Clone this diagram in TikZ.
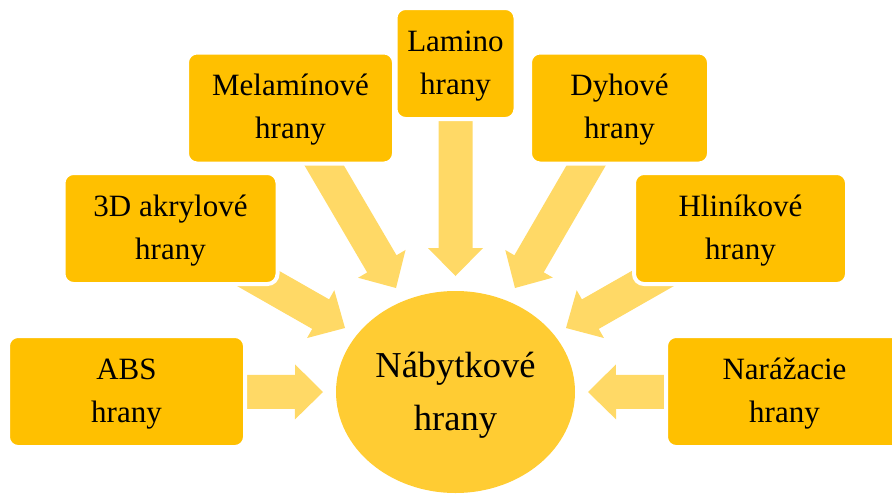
\documentclass[tikz,border=0pt]{standalone}
\usepackage{fontspec}
\setmainfont{Liberation Serif}
\usetikzlibrary{calc,shapes.geometric,backgrounds}
\definecolor{boxgold}{HTML}{FFC000}
\definecolor{arrowgold}{HTML}{FFD966}
\definecolor{hubgold}{HTML}{FFCC33}
\tikzset{
  box/.style={fill=boxgold, draw=white, line width=4pt, rounded corners=10pt,
    minimum height=111pt, inner sep=0pt, align=center,
    font=\fontsize{31}{43}\selectfont, text height=68pt, text depth=7pt},
  hub/.style={ellipse, fill=hubgold, minimum width=239pt, minimum height=202pt,
    inner sep=0pt, align=center, font=\fontsize{36.5}{53}\selectfont,
    text height=84pt, text depth=8pt},
  arrowfill/.style={fill=arrowgold},
}
% block arrow from #1 (tail, hidden under a box) to #2 (tip)
\newcommand\blockarrow[2]{%
  \coordinate (qm) at ($(#2)!28pt!(#1)$);
  \fill[arrowfill] ($(#1)!17pt!90:(#2)$) -- ($(qm)!17pt!90:(#2)$)
    -- ($(qm)!27.5pt!90:(#2)$) -- (#2) -- ($(qm)!27.5pt!-90:(#2)$)
    -- ($(qm)!17pt!-90:(#2)$) -- ($(#1)!17pt!-90:(#2)$) -- cycle;
}
\begin{document}
\begin{tikzpicture}[x=1pt,y=-1pt]
\useasboundingbox (0,0) rectangle (892,493);
\node[hub] (hub) at (455.5,392) {Nábytkové\\hrany};
\node[box, minimum width=237pt] (abs) at (126.5,391.5) {ABS\\hrany};
\node[box, minimum width=214pt] (akr) at (170.5,228.5) {3D akrylové\\hrany};
\node[box, minimum width=207pt] (mel) at (290.5,108) {Melamínové\\hrany};
\node[box, minimum width=120pt] (lam) at (455.5,63.5) {Lamino\\hrany};
\node[box, minimum width=179pt] (dyh) at (619.5,108) {Dyhové\\hrany};
\node[box, minimum width=213pt] (hli) at (740.5,228.5) {Hliníkové\\hrany};
\node[box, minimum width=237pt] (nar) at (784.5,391.5) {Narážacie\\hrany};
\coordinate (tabs) at (323,392);
\coordinate (takr) at (345,328);
\coordinate (tmel) at (396,288);
\coordinate (tlam) at (455.5,276);
\coordinate (tdyh) at (515,288);
\coordinate (thli) at (566,328);
\coordinate (tnar) at (588,392);
\begin{pgfonlayer}{background}
\blockarrow{abs.center}{tabs}
\blockarrow{akr.center}{takr}
\blockarrow{mel.center}{tmel}
\blockarrow{lam.center}{tlam}
\blockarrow{dyh.center}{tdyh}
\blockarrow{hli.center}{thli}
\blockarrow{nar.center}{tnar}
\end{pgfonlayer}
\end{tikzpicture}
\end{document}
